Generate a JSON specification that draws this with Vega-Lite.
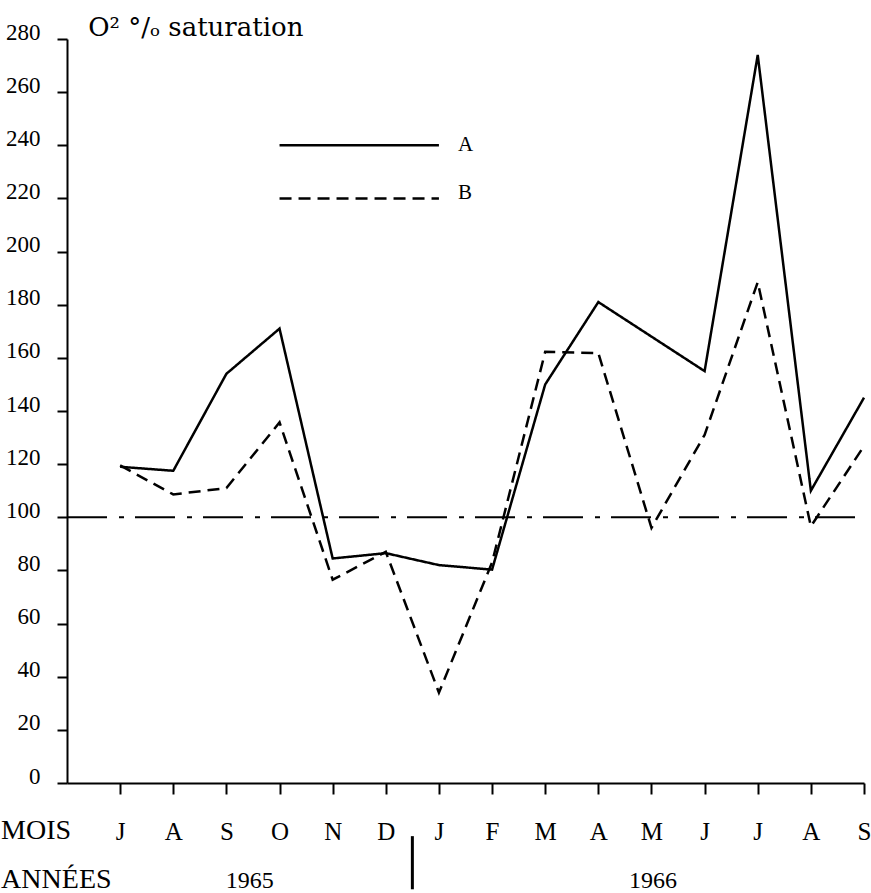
{
  "$schema": "https://vega.github.io/schema/vega-lite/v6.json",
  "width": 797,
  "height": 744,
  "autosize": {"type": "none"},
  "padding": {"left": 67, "top": 39, "right": 7, "bottom": 110},
  "background": "white",
  "config": {
    "view": {"stroke": null},
    "font": "Liberation Serif",
    "axis": {"labelFont": "Liberation Serif", "titleFont": "Liberation Serif"},
    "text": {"font": "Liberation Serif"}
  },
  "datasets": {
    "series": [
      {"i": 0, "s": "A", "v": 119}, {"i": 1, "s": "A", "v": 117.5}, {"i": 2, "s": "A", "v": 154},
      {"i": 3, "s": "A", "v": 171}, {"i": 4, "s": "A", "v": 84.5}, {"i": 5, "s": "A", "v": 86.5},
      {"i": 6, "s": "A", "v": 82}, {"i": 7, "s": "A", "v": 80.3}, {"i": 8, "s": "A", "v": 150},
      {"i": 9, "s": "A", "v": 181}, {"i": 10, "s": "A", "v": 168}, {"i": 11, "s": "A", "v": 155},
      {"i": 12, "s": "A", "v": 274}, {"i": 13, "s": "A", "v": 110}, {"i": 14, "s": "A", "v": 145},
      {"i": 0, "s": "B", "v": 119.5}, {"i": 1, "s": "B", "v": 108.6}, {"i": 2, "s": "B", "v": 111},
      {"i": 3, "s": "B", "v": 135.7}, {"i": 4, "s": "B", "v": 76.5}, {"i": 5, "s": "B", "v": 87},
      {"i": 6, "s": "B", "v": 34}, {"i": 7, "s": "B", "v": 83}, {"i": 8, "s": "B", "v": 162.3},
      {"i": 9, "s": "B", "v": 161.8}, {"i": 10, "s": "B", "v": 96}, {"i": 11, "s": "B", "v": 131},
      {"i": 12, "s": "B", "v": 188.5}, {"i": 13, "s": "B", "v": 96.6}, {"i": 14, "s": "B", "v": 126.8}
    ],
    "key": [
      {"i": 3, "s": "A", "v": 240}, {"i": 6, "s": "A", "v": 240},
      {"i": 3, "s": "B", "v": 220}, {"i": 6, "s": "B", "v": 220}
    ],
    "reference": [{"i": -1, "i2": 14, "v": 100}],
    "divider": [{"i": 5.5, "v": -20, "v2": -40}],
    "labels": [
      {"k": "title", "t": "O² °/ₒ saturation", "i": -0.6, "v": 281},
      {"k": "row", "t": "MOIS", "i": -2.24, "v": -21},
      {"k": "row", "t": "ANNÉES", "i": -2.24, "v": -39.5},
      {"k": "year", "t": "1965", "i": 2.44, "v": -39.5},
      {"k": "year", "t": "1966", "i": 10.03, "v": -39.5},
      {"k": "key", "t": "A", "i": 6.36, "v": 240},
      {"k": "key", "t": "B", "i": 6.36, "v": 222}
    ]
  },
  "encoding": {
    "x": {
      "field": "i",
      "type": "quantitative",
      "scale": {"domain": [-1, 14], "nice": false, "zero": false},
      "axis": {
        "title": null,
        "grid": false,
        "values": [0, 1, 2, 3, 4, 5, 6, 7, 8, 9, 10, 11, 12, 13, 14],
        "labelExpr": "['J','A','S','O','N','D','J','F','M','A','M','J','J','A','S'][datum.value]",
        "domainColor": "black",
        "domainWidth": 2,
        "tickColor": "black",
        "tickWidth": 2,
        "tickSize": 11,
        "labelFont": "Liberation Serif",
        "labelFontSize": 25,
        "labelColor": "black",
        "labelPadding": 45,
        "labelBaseline": "alphabetic",
        "labelFlush": false,
        "labelOverlap": false
      }
    },
    "y": {
      "field": "v",
      "type": "quantitative",
      "scale": {"domain": [0, 280], "nice": false, "zero": false},
      "axis": {
        "title": null,
        "grid": false,
        "values": [0, 20, 40, 60, 80, 100, 120, 140, 160, 180, 200, 220, 240, 260, 280],
        "domainColor": "black",
        "domainWidth": 2,
        "tickColor": "black",
        "tickWidth": 2,
        "tickSize": 10,
        "labelFont": "Liberation Serif",
        "labelFontSize": 23,
        "labelColor": "black",
        "labelPadding": 17,
        "labelBaseline": "alphabetic",
        "labelFlush": false,
        "labelOverlap": false
      }
    }
  },
  "layer": [
    {
      "data": {"name": "reference"},
      "mark": {"type": "rule", "color": "black", "strokeWidth": 2, "strokeDash": [40, 12, 5, 11]},
      "encoding": {"x2": {"field": "i2"}}
    },
    {
      "data": {"name": "series"},
      "mark": {"type": "line", "color": "black", "strokeWidth": 2.5, "strokeCap": "butt", "strokeJoin": "miter"},
      "encoding": {
        "strokeDash": {"field": "s", "type": "nominal", "scale": {"domain": ["A", "B"], "range": [[1, 0], [12, 7]]}, "legend": null}
      }
    },
    {
      "data": {"name": "key"},
      "mark": {"type": "line", "color": "black", "strokeWidth": 2.5, "strokeCap": "butt"},
      "encoding": {
        "strokeDash": {"field": "s", "type": "nominal", "scale": {"domain": ["A", "B"], "range": [[1, 0], [12, 7]]}, "legend": null}
      }
    },
    {
      "data": {"name": "divider"},
      "mark": {"type": "rule", "color": "black", "strokeWidth": 3},
      "encoding": {"y2": {"field": "v2"}}
    },
    {
      "data": {"name": "labels"},
      "transform": [{"filter": "datum.k === 'title'"}],
      "mark": {"type": "text", "font": "DejaVu Serif", "fontSize": 26, "align": "left", "baseline": "alphabetic", "color": "black"},
      "encoding": {"text": {"field": "t"}}
    },
    {
      "data": {"name": "labels"},
      "transform": [{"filter": "datum.k === 'row'"}],
      "mark": {"type": "text", "font": "Liberation Serif", "fontSize": 28, "align": "left", "baseline": "alphabetic", "color": "black"},
      "encoding": {"text": {"field": "t"}}
    },
    {
      "data": {"name": "labels"},
      "transform": [{"filter": "datum.k === 'year'"}],
      "mark": {"type": "text", "font": "Liberation Serif", "fontSize": 24, "align": "center", "baseline": "alphabetic", "color": "black"},
      "encoding": {"text": {"field": "t"}}
    },
    {
      "data": {"name": "labels"},
      "transform": [{"filter": "datum.k === 'key'"}],
      "mark": {"type": "text", "font": "Liberation Serif", "fontSize": 21, "align": "left", "baseline": "middle", "color": "black"},
      "encoding": {"text": {"field": "t"}}
    }
  ]
}
